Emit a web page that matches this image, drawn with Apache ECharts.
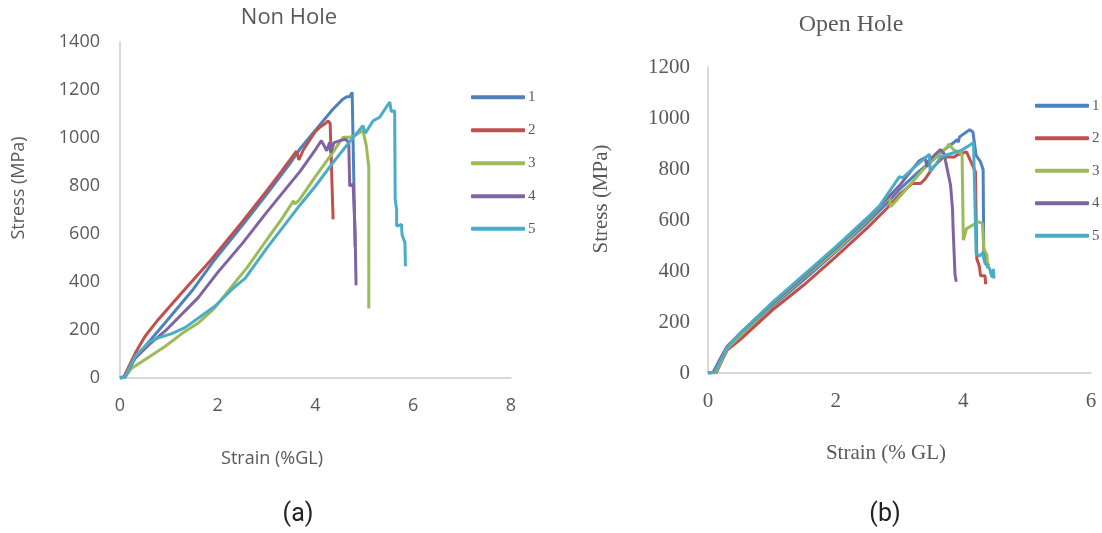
<!DOCTYPE html>
<html>
<head>
<meta charset="utf-8">
<script src="https://cdn.jsdelivr.net/npm/echarts@6/dist/echarts.min.js"></script>
<style>
html,body{margin:0;padding:0;background:#fff;}
#c{width:1102px;height:533px;}
</style>
</head>
<body>
<div id="c"></div>
<script>
// ---------- DATA ----------
const seriesNames = ['1', '2', '3', '4', '5'];
const colors = ['#4F81BD', '#C0504D', '#9BBB59', '#8064A2', '#4BACC6'];

// Non Hole: [strain %GL, stress MPa]
const nonHole1 = [[0,0],[0.1,3],[0.3,80],[0.51,131],[0.92,229],[1.5,370],[1.94,494],[2.5,635],[3.0,765],[3.5,900],[3.68,954],[4.02,1038],[4.36,1121],[4.55,1160],[4.64,1172],[4.66,1180],[4.70,1172],[4.75,1190],[4.77,1198],[4.79,1190],[4.81,548]];
const nonHole2 = [[0,0],[0.08,5],[0.31,103],[0.51,173],[0.78,243],[1.26,354],[1.87,494],[2.5,650],[3.0,780],[3.3,860],[3.61,945],[3.66,909],[3.75,950],[3.99,1025],[4.09,1045],[4.2,1060],[4.26,1072],[4.3,1060],[4.34,1055],[4.36,661]];
const nonHole3 = [[0,0],[0.1,3],[0.24,41],[0.5,75],[0.92,131],[1.3,190],[1.6,229],[1.94,292],[2.32,390],[2.6,460],[3.0,575],[3.3,660],[3.55,738],[3.58,725],[3.68,745],[4.0,840],[4.36,941],[4.5,985],[4.57,1003],[4.70,1003],[4.8,1010],[4.97,1031],[5.04,968],[5.07,912],[5.09,880],[5.09,290]];
const nonHole4 = [[0,0],[0.1,5],[0.3,80],[0.6,140],[0.92,195],[1.6,335],[2.0,440],[2.5,560],[3.0,690],[3.5,815],[3.68,860],[4.0,952],[4.12,989],[4.16,985],[4.23,947],[4.29,982],[4.31,940],[4.38,981],[4.52,990],[4.62,995],[4.68,980],[4.70,800],[4.77,808],[4.81,611],[4.83,386]];
const nonHole5 = [[0,0],[0.1,3],[0.31,90],[0.6,150],[0.8,168],[1.06,185],[1.33,210],[1.94,299],[2.32,375],[2.56,415],[3.0,540],[3.68,720],[4.0,800],[4.36,898],[4.7,985],[4.97,1051],[5.0,1050],[5.02,1020],[5.18,1072],[5.31,1086],[5.52,1150],[5.55,1110],[5.62,1114],[5.63,745],[5.66,703],[5.66,633],[5.76,640],[5.77,598],[5.83,564],[5.84,564],[5.84,466]];

// Open Hole: [strain % GL, stress MPa]
const openHole1 = [[0,0],[0.12,3],[0.22,55],[0.3,95],[0.5,145],[1,260],[1.5,365],[2,475],[2.5,590],[2.8,665],[3.0,720],[3.3,790],[3.5,830],[3.69,873],[3.86,906],[3.9,915],[3.92,905],[3.94,926],[4.10,954],[4.15,945],[4.2,853],[4.27,828],[4.31,797],[4.32,470],[4.36,440],[4.40,420]];
const openHole2 = [[0,0],[0.13,2],[0.22,50],[0.3,90],[0.5,130],[1,245],[1.5,345],[2,455],[2.5,570],[2.8,645],[3.0,700],[3.2,743],[3.33,743],[3.4,760],[3.53,808],[3.69,847],[3.86,847],[3.9,855],[4.05,867],[4.08,872],[4.12,828],[4.19,789],[4.21,449],[4.25,420],[4.27,381],[4.34,381],[4.35,348]];
const openHole3 = [[0,0],[0.12,3],[0.22,55],[0.3,95],[0.5,145],[1,265],[1.5,375],[2,480],[2.5,600],[2.84,691],[2.86,652],[3.0,690],[3.36,795],[3.5,830],[3.75,887],[3.77,898],[3.85,875],[3.98,859],[4.0,521],[4.05,566],[4.24,593],[4.30,586],[4.32,488],[4.37,462],[4.38,410]];
const openHole4 = [[0,0],[0.08,3],[0.2,60],[0.3,105],[0.5,155],[1,270],[1.5,380],[2,490],[2.5,605],[3.0,735],[3.3,830],[3.4,845],[3.43,808],[3.45,830],[3.55,855],[3.64,876],[3.7,860],[3.72,833],[3.80,736],[3.83,645],[3.84,567],[3.87,384],[3.89,358]];
const openHole5 = [[0,0],[0.1,3],[0.2,50],[0.3,100],[0.5,155],[1.0,275],[1.5,385],[2.0,495],[2.5,610],[2.7,660],[3.0,770],[3.05,765],[3.2,800],[3.47,858],[3.48,790],[3.58,821],[3.64,847],[3.8,860],[3.97,873],[4.16,903],[4.2,470],[4.25,458],[4.3,470],[4.34,430],[4.41,410],[4.45,375],[4.47,408],[4.48,370]];

const nonHoleData = [nonHole1, nonHole2, nonHole3, nonHole4, nonHole5];
const openHoleData = [openHole1, openHole2, openHole3, openHole4, openHole5];

const nonHoleXTicks = {min: 0, max: 8, interval: 2};
const nonHoleYTicks = {min: 0, max: 1400, interval: 200};
const openHoleXTicks = {min: 0, max: 6, interval: 2};
const openHoleYTicks = {min: 0, max: 1200, interval: 200};

// ---------- CHART ----------
const chart = echarts.init(document.getElementById('c'), null, {renderer: 'canvas'});
const sans = "'Open Sans', sans-serif";
const serif = "'Liberation Serif', 'Times New Roman', serif";
const gray = '#595959';
const axisLineStyle = {lineStyle: {color: '#cccccc', width: 1.5}};

function axis(ticks, gridIndex, font, size, margin) {
  return {
    type: 'value', gridIndex: gridIndex,
    min: ticks.min, max: ticks.max, interval: ticks.interval,
    axisLine: Object.assign({show: true}, axisLineStyle),
    axisTick: {show: false},
    splitLine: {show: false},
    axisLabel: {fontFamily: font, fontSize: size, color: gray, margin: margin,
      formatter: function (v) { return String(v); }}
  };
}

const series = [];
nonHoleData.forEach((d, i) => series.push({
  name: seriesNames[i], type: 'line', xAxisIndex: 0, yAxisIndex: 0, data: d,
  showSymbol: false, symbol: 'none', lineStyle: {width: 3, color: colors[i]}, itemStyle: {color: colors[i]}
}));
openHoleData.forEach((d, i) => series.push({
  name: seriesNames[i], type: 'line', xAxisIndex: 1, yAxisIndex: 1, data: d,
  showSymbol: false, symbol: 'none', lineStyle: {width: 3, color: colors[i]}, itemStyle: {color: colors[i]}
}));

const legends = [];
const leftLegendY = [97.3, 130.3, 163.3, 196.2, 228.8];
const rightLegendY = [105.7, 138.3, 170.7, 203.3, 235.7];
seriesNames.forEach((n, i) => {
  legends.push({data: [n], left: 471, top: leftLegendY[i] - 8, padding: 0, itemWidth: 54, itemHeight: 4,
    icon: 'roundRect', selectedMode: false,
    textStyle: {fontFamily: serif, fontSize: 15, color: gray, lineHeight: 16, padding: [0, 0, 0, -2]}});
  legends.push({data: [n], left: 1035, top: rightLegendY[i] - 8, padding: 0, itemWidth: 54, itemHeight: 4,
    icon: 'roundRect', selectedMode: false,
    textStyle: {fontFamily: serif, fontSize: 15, color: gray, lineHeight: 16, padding: [0, 0, 0, -2]}});
});

chart.setOption({
  animation: false,
  backgroundColor: '#ffffff',
  grid: [
    {left: 120, top: 42, width: 391, height: 336},
    {left: 708, top: 67, width: 383, height: 306}
  ],
  xAxis: [axis(nonHoleXTicks, 0, sans, 18, 19), axis(openHoleXTicks, 1, serif, 21, 18)],
  yAxis: [axis(nonHoleYTicks, 0, sans, 18, 20), axis(openHoleYTicks, 1, serif, 21, 18)],
  legend: legends,
  series: series,
  graphic: [
    {type: 'text', x: 289, y: 18, style: {text: 'Non Hole', font: "22px 'Open Sans'", fill: gray, align: 'center', verticalAlign: 'middle'}},
    {type: 'text', x: 851, y: 25, style: {text: 'Open Hole', font: "24px 'Liberation Serif'", fill: gray, align: 'center', verticalAlign: 'middle'}},
    {type: 'text', x: 18.5, y: 188, rotation: Math.PI / 2, style: {text: 'Stress (MPa)', font: "18px 'Open Sans'", fill: gray, align: 'center', verticalAlign: 'middle'}},
    {type: 'text', x: 601, y: 199, rotation: Math.PI / 2, style: {text: 'Stress (MPa)', font: "21px 'Liberation Serif'", fill: gray, align: 'center', verticalAlign: 'middle'}},
    {type: 'text', x: 272, y: 459, style: {text: 'Strain (%GL)', font: "18px 'Open Sans'", fill: gray, align: 'center', verticalAlign: 'middle'}},
    {type: 'text', x: 886, y: 453, style: {text: 'Strain (% GL)', font: "21px 'Liberation Serif'", fill: gray, align: 'center', verticalAlign: 'middle'}},
    {type: 'text', x: 298, y: 515, style: {text: '(a)', font: "25px Roboto", fill: '#222222', align: 'center', verticalAlign: 'middle'}},
    {type: 'text', x: 885, y: 515, style: {text: '(b)', font: "25px Roboto", fill: '#222222', align: 'center', verticalAlign: 'middle'}}
  ]
});
</script>
</body>
</html>
